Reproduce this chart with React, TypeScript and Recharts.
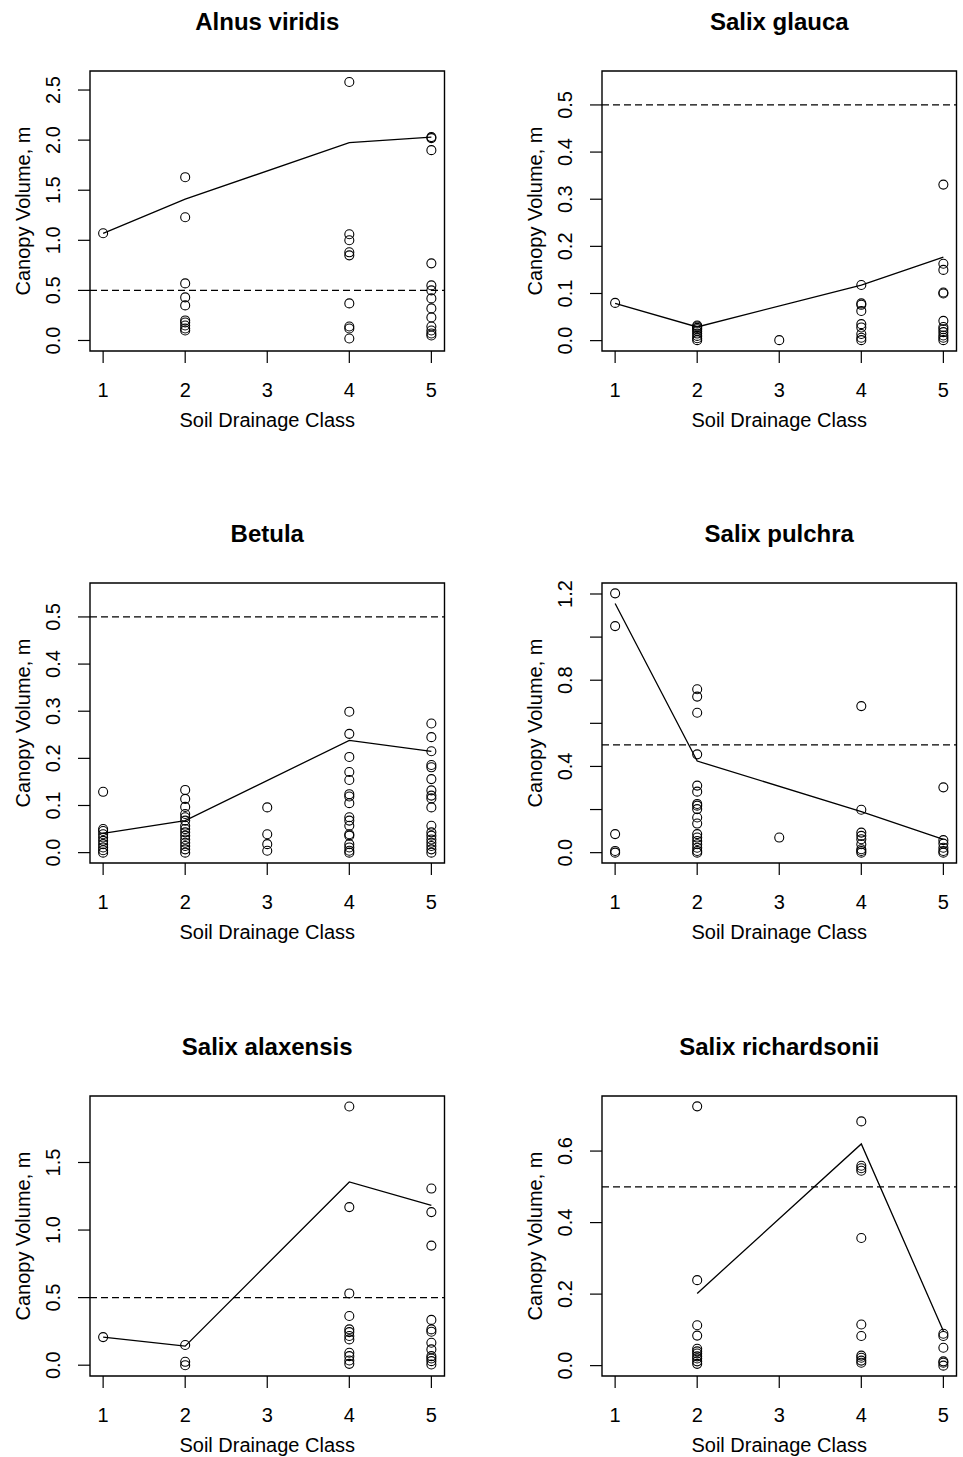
import { ScatterChart, Scatter, XAxis, YAxis, ReferenceLine, ReferenceArea } from 'recharts'

// drainage classes on the x axis
const drainageClasses = [1, 2, 3, 4, 5]
const classDomain: [number, number] = [0.84, 5.16]
const threshold = 0.5

// observations per drainage class (index 0 = class 1), canopy volume in m
const alnusObs: number[][] = [
  [1.07],
  [1.63, 1.23, 0.57, 0.43, 0.35, 0.2, 0.18, 0.15, 0.12, 0.1],
  [],
  [2.58, 1.06, 1.0, 0.88, 0.85, 0.37, 0.14, 0.12, 0.02],
  [2.03, 2.02, 1.9, 0.77, 0.55, 0.5, 0.42, 0.32, 0.23, 0.14, 0.1, 0.07, 0.05],
]
const alnusMean = [1.07, 1.41, null, 1.975, 2.03]
const alnusTicks = [0, 0.5, 1, 1.5, 2, 2.5]
const alnusTickLabels = ['0.0', '0.5', '1.0', '1.5', '2.0', '2.5']

const glaucaObs: number[][] = [
  [0.08],
  [0.032, 0.03, 0.027, 0.024, 0.02, 0.015, 0.01, 0.005, 0.001],
  [0.001],
  [0.118, 0.079, 0.076, 0.063, 0.035, 0.028, 0.014, 0.006, 0.001],
  [0.331, 0.163, 0.15, 0.102, 0.1, 0.042, 0.029, 0.024, 0.018, 0.011, 0.006, 0.001],
]
const glaucaMean = [0.079, 0.029, null, 0.118, 0.177]
const smallTicks = [0, 0.1, 0.2, 0.3, 0.4, 0.5]
const smallTickLabels = ['0.0', '0.1', '0.2', '0.3', '0.4', '0.5']

const betulaObs: number[][] = [
  [0.129, 0.05, 0.046, 0.039, 0.032, 0.025, 0.018, 0.011, 0.005, 0.0],
  [0.133, 0.114, 0.097, 0.082, 0.075, 0.068, 0.057, 0.05, 0.043, 0.036, 0.028, 0.021, 0.014, 0.007, 0.0],
  [0.096, 0.039, 0.018, 0.004],
  [0.299, 0.252, 0.203, 0.171, 0.154, 0.124, 0.119, 0.105, 0.075, 0.068, 0.057, 0.039, 0.036, 0.018, 0.011, 0.004, 0.0],
  [0.274, 0.245, 0.215, 0.186, 0.181, 0.156, 0.132, 0.121, 0.115, 0.096, 0.057, 0.043, 0.036, 0.028, 0.021, 0.014, 0.007, 0.0],
]
const betulaMean = [0.041, 0.068, null, 0.238, 0.215]

const pulchraObs: number[][] = [
  [1.203, 1.051, 0.086, 0.008, 0.0],
  [0.758, 0.724, 0.649, 0.456, 0.311, 0.283, 0.226, 0.218, 0.202, 0.163, 0.135, 0.086, 0.07, 0.054, 0.039, 0.023, 0.008, 0.0],
  [0.07],
  [0.68, 0.199, 0.093, 0.078, 0.062, 0.039, 0.016, 0.008, 0.0],
  [0.303, 0.058, 0.042, 0.023, 0.008, 0.0],
]
const pulchraMean = [1.156, 0.425, null, 0.19, 0.062]
const pulchraTicks = [0, 0.2, 0.4, 0.6, 0.8, 1.0, 1.2]
const pulchraTickLabels = ['0.0', '', '0.4', '', '0.8', '', '1.2']

const alaxensisObs: number[][] = [
  [0.208],
  [0.149, 0.025, 0.0],
  [],
  [1.914, 1.17, 0.531, 0.364, 0.265, 0.245, 0.216, 0.191, 0.092, 0.067, 0.035, 0.01],
  [1.307, 1.133, 0.885, 0.335, 0.265, 0.248, 0.166, 0.117, 0.067, 0.05, 0.03, 0.005],
]
const alaxensisMean = [0.208, 0.141, null, 1.356, 1.183]
const alaxensisTicks = [0, 0.5, 1, 1.5]
const alaxensisTickLabels = ['0.0', '0.5', '1.0', '1.5']

const richardsoniiObs: number[][] = [
  [],
  [0.725, 0.239, 0.113, 0.084, 0.047, 0.04, 0.034, 0.026, 0.02, 0.012, 0.005],
  [],
  [0.683, 0.559, 0.552, 0.545, 0.357, 0.115, 0.083, 0.028, 0.022, 0.014, 0.008],
  [0.089, 0.083, 0.05, 0.012, 0.008, 0.0],
]
const richardsoniiMean = [null, 0.202, null, 0.62, 0.097]
const richardsoniiTicks = [0, 0.2, 0.4, 0.6]
const richardsoniiTickLabels = ['0.0', '0.2', '0.4', '0.6']

type PanelSpec = {
  title: string
  obs: number[][]
  mean: (number | null)[]
  yDomain: [number, number]
  yTicks: number[]
  yLabels: string[]
}

const panels: PanelSpec[] = [
  { title: 'Alnus viridis', obs: alnusObs, mean: alnusMean, yDomain: [-0.105, 2.69], yTicks: alnusTicks, yLabels: alnusTickLabels },
  { title: 'Salix glauca', obs: glaucaObs, mean: glaucaMean, yDomain: [-0.022, 0.572], yTicks: smallTicks, yLabels: smallTickLabels },
  { title: 'Betula', obs: betulaObs, mean: betulaMean, yDomain: [-0.022, 0.572], yTicks: smallTicks, yLabels: smallTickLabels },
  { title: 'Salix pulchra', obs: pulchraObs, mean: pulchraMean, yDomain: [-0.048, 1.251], yTicks: pulchraTicks, yLabels: pulchraTickLabels },
  { title: 'Salix alaxensis', obs: alaxensisObs, mean: alaxensisMean, yDomain: [-0.08, 1.992], yTicks: alaxensisTicks, yLabels: alaxensisTickLabels },
  { title: 'Salix richardsonii', obs: richardsoniiObs, mean: richardsoniiMean, yDomain: [-0.029, 0.754], yTicks: richardsoniiTicks, yLabels: richardsoniiTickLabels },
]

const FONT = '"Liberation Sans", Arial, Helvetica, sans-serif'

// plot box inside each chart
const PLOT_L = 90
const PLOT_T = 71
const PLOT_W = 354.5
const PLOT_H = 280
const AXIS_H = 82
const CHART_W = PLOT_L + PLOT_W + 5
const CHART_H = PLOT_T + PLOT_H + AXIS_H

const colLefts = [-0.5, 511.7]
const rowTops = [0, 512.3, 1025]

function OpenCircle(props: any) {
  return <circle cx={props.cx} cy={props.cy} r={4.5} fill="none" stroke="#000" strokeWidth={1.1} />
}

function SpeciesPanel({ spec, left, top }: { spec: PanelSpec; left: number; top: number }) {
  const points = spec.obs.flatMap((vals, i) => vals.map((v) => ({ x: drainageClasses[i], y: v })))
  const meanLine = spec.mean
    .map((v, i) => (v == null ? null : { x: drainageClasses[i], y: v }))
    .filter((d) => d !== null) as { x: number; y: number }[]

  const xTick = (p: any) => (
    <text x={p.x} y={PLOT_T + PLOT_H + 46} textAnchor="middle" fontFamily={FONT} fontSize={20} fill="#000">
      {p.payload.value}
    </text>
  )
  const yTick = (p: any) => {
    const idx = spec.yTicks.findIndex((t) => Math.abs(t - p.payload.value) < 1e-9)
    const label = idx >= 0 ? spec.yLabels[idx] : ''
    const bx = PLOT_L - 30
    return (
      <text x={bx} y={p.y} transform={`rotate(-90, ${bx}, ${p.y})`} textAnchor="middle" fontFamily={FONT} fontSize={20} fill="#000">
        {label}
      </text>
    )
  }

  // title and axis titles hang off the plot box
  const boxLabels = () => (
    <g fontFamily={FONT} fill="#000">
      <text x={PLOT_L + PLOT_W / 2} y={PLOT_T - 41} textAnchor="middle" fontSize={24} fontWeight="bold">
        {spec.title}
      </text>
      <text x={PLOT_L + PLOT_W / 2} y={PLOT_T + PLOT_H + 76} textAnchor="middle" fontSize={20}>
        Soil Drainage Class
      </text>
      <text
        x={PLOT_L - 60}
        y={PLOT_T + PLOT_H / 2}
        transform={`rotate(-90, ${PLOT_L - 60}, ${PLOT_T + PLOT_H / 2})`}
        textAnchor="middle"
        fontSize={20}
      >
        Canopy Volume, m
      </text>
    </g>
  )

  return (
    <div style={{ position: 'absolute', left, top }}>
      <ScatterChart width={CHART_W} height={CHART_H} margin={{ top: PLOT_T, right: 5, bottom: 0, left: 0 }}>
        <XAxis
          type="number"
          dataKey="x"
          domain={classDomain}
          ticks={drainageClasses}
          allowDataOverflow
          interval={0}
          axisLine={false}
          tickSize={12}
          tickLine={{ stroke: '#000', strokeWidth: 1.2 }}
          height={AXIS_H}
          tick={xTick}
        />
        <YAxis
          type="number"
          dataKey="y"
          domain={spec.yDomain}
          ticks={spec.yTicks}
          allowDataOverflow
          interval={0}
          axisLine={false}
          tickSize={12}
          tickLine={{ stroke: '#000', strokeWidth: 1.2 }}
          width={PLOT_L}
          tick={yTick}
        />
        <ReferenceLine y={threshold} stroke="#000" strokeWidth={1.2} strokeDasharray="7 4" />
        <Scatter data={points} shape={OpenCircle} isAnimationActive={false} />
        <Scatter
          data={meanLine}
          line={{ stroke: '#000', strokeWidth: 1.3 }}
          shape={() => <g />}
          isAnimationActive={false}
        />
        <ReferenceArea
          x1={classDomain[0]}
          x2={classDomain[1]}
          y1={spec.yDomain[0]}
          y2={spec.yDomain[1]}
          fill="none"
          stroke="#000"
          strokeWidth={1.4}
          ifOverflow="visible"
          label={boxLabels}
        />
      </ScatterChart>
    </div>
  )
}

export default function App() {
  return (
    <div
      style={{
        position: 'absolute',
        left: 0,
        top: 0,
        width: 963,
        height: 1457,
        background: '#fff',
        overflow: 'hidden',
      }}
    >
      {panels.map((spec, i) => (
        <SpeciesPanel key={spec.title} spec={spec} left={colLefts[i % 2]} top={rowTops[Math.floor(i / 2)]} />
      ))}
    </div>
  )
}
